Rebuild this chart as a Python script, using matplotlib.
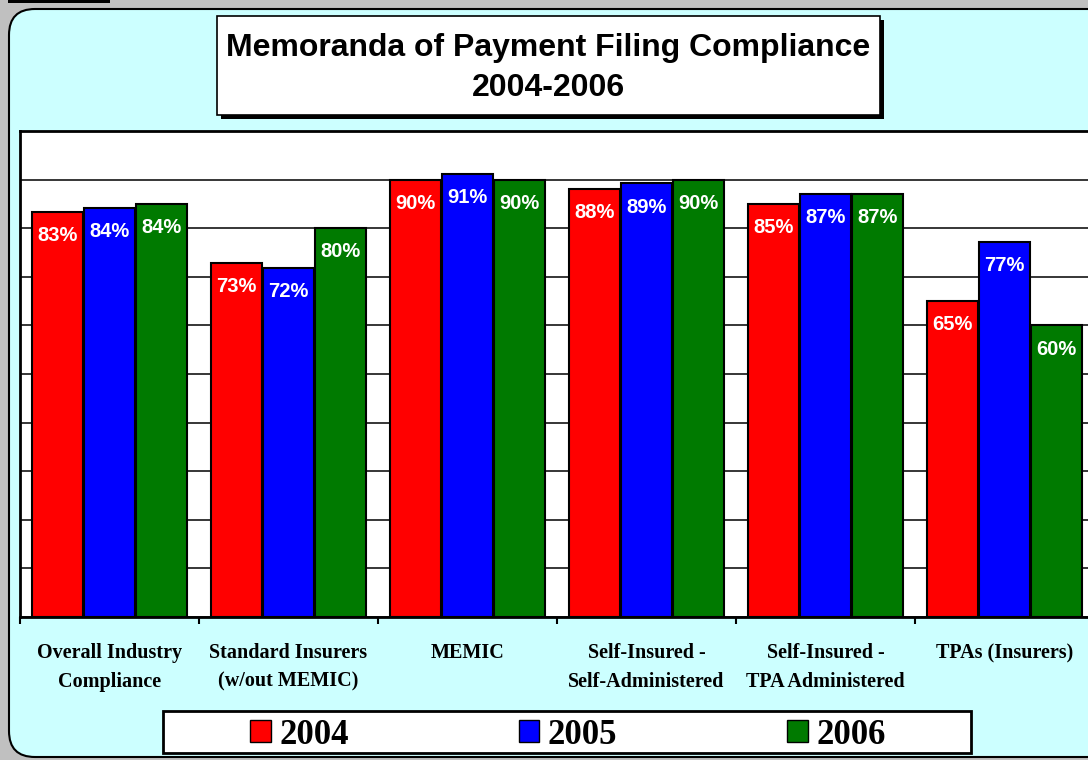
"""
    Memoranda of Payment Filing Compliance 2004-2006 - grouped bar chart.
"""

import matplotlib.pyplot as plt
import matplotlib.patches as mpatches
import matplotlib.transforms as mtransforms

categories = ['Overall Industry\nCompliance', 'Standard Insurers\n(w/out MEMIC)', 'MEMIC',
              'Self-Insured -\nSelf-Administered', 'Self-Insured -\nTPA Administered', 'TPAs (Insurers)']
years = ['2004', '2005', '2006']
vals2004 = [83.3, 72.9, 90.0, 88.1, 85.0, 65.0]
vals2005 = [84.2, 71.9, 91.2, 89.2, 87.1, 77.1]
vals2006 = [85.0, 80.1, 90.0, 90.0, 87.1, 60.0]
labels2004 = ['83%', '73%', '90%', '88%', '85%', '65%']
labels2005 = ['84%', '72%', '91%', '89%', '87%', '77%']
labels2006 = ['84%', '80%', '90%', '90%', '87%', '60%']
colors = ['#ff0000', '#0000ff', '#007a00']

W, H = 1088, 760
fig = plt.figure(figsize=(W / 100, H / 100), dpi=100)
fig.patch.set_facecolor('#c0c0c0')
pix = mtransforms.IdentityTransform()

# small dark line at the very top left
fig.add_artist(mpatches.Rectangle((8, H - 3), 102, 3, transform=pix, facecolor='black', edgecolor='none',
                                  zorder=-2))

# cyan rounded panel
fig.add_artist(mpatches.FancyBboxPatch((9, 3), 1110, H - 12, boxstyle='round,pad=0,rounding_size=26',
                                       transform=pix, facecolor='#ccffff', edgecolor='black', linewidth=1.5,
                                       zorder=-2))

# title box with shadow
fig.add_artist(mpatches.Rectangle((221, H - 119), 663, 99, transform=pix, facecolor='black', edgecolor='none',
                                  zorder=-1))
fig.add_artist(mpatches.Rectangle((217, H - 115), 663, 99, transform=pix, facecolor='white',
                                  edgecolor='black', linewidth=1.2, zorder=-1))
fig.text(548 / W, 1 - 48 / H, 'Memoranda of Payment Filing Compliance', ha='center', va='center',
         fontsize=23, fontweight='bold', family='Liberation Sans')
fig.text(548 / W, 1 - 88 / H, '2004-2006', ha='center', va='center',
         fontsize=23, fontweight='bold', family='Liberation Sans')

# plot area
ax = fig.add_axes([20 / W, 1 - 617 / H, 1074 / W, 486 / H])
ax.set_facecolor('white')
ax.set_xlim(-0.5, 5.5)
ax.set_ylim(0, 100)
ax.set_yticks(range(0, 101, 10))
ax.set_yticklabels([])
ax.tick_params(axis='y', length=0)
ax.grid(axis='y', color='black', linewidth=1.1)
ax.set_axisbelow(True)
for s in ax.spines.values():
    s.set_linewidth(2)
    s.set_color('black')

xs = list(range(len(categories)))
width = 0.282
offset = 0.29
for k, (vals, labs) in enumerate([(vals2004, labels2004), (vals2005, labels2005), (vals2006, labels2006)]):
    pos = [x + (k - 1) * offset for x in xs]
    ax.bar(pos, vals, width, color=colors[k], edgecolor='black', linewidth=1.5, zorder=3)
    for p, v, l in zip(pos, vals, labs):
        ax.annotate(l, (p, v), xytext=(0, -17), textcoords='offset points', ha='center', va='center',
                    color='white', fontsize=14.5, fontweight='bold', family='Liberation Sans', zorder=4)

# category labels (major, no tick marks) and boundary ticks (minor)
ax.set_xticks(xs)
ax.set_xticklabels(categories, fontsize=14.5, fontweight='bold', family='Liberation Serif', linespacing=1.55)
ax.tick_params(axis='x', which='major', length=0, pad=19)
ax.set_xticks([x - 0.5 for x in range(len(categories) + 1)], minor=True)
ax.tick_params(axis='x', which='minor', length=5, width=1.5, direction='out', color='black')

# legend box
fig.add_artist(mpatches.Rectangle((163, H - 753), 808, 42, transform=pix, facecolor='white',
                                  edgecolor='black', linewidth=2, zorder=-1))
handles = [mpatches.Patch(facecolor=c, edgecolor='black', linewidth=1) for c in colors]
fig.legend(handles, years, loc='center', bbox_to_anchor=(568 / W, 1 - 735 / H), ncol=3, frameon=False,
           prop={'family': 'Liberation Serif', 'weight': 'bold', 'size': 25},
           handlelength=0.58, handleheight=0.58, handletextpad=0.25, columnspacing=4.9)

fig.savefig('out.png', dpi=100, facecolor=fig.get_facecolor())
